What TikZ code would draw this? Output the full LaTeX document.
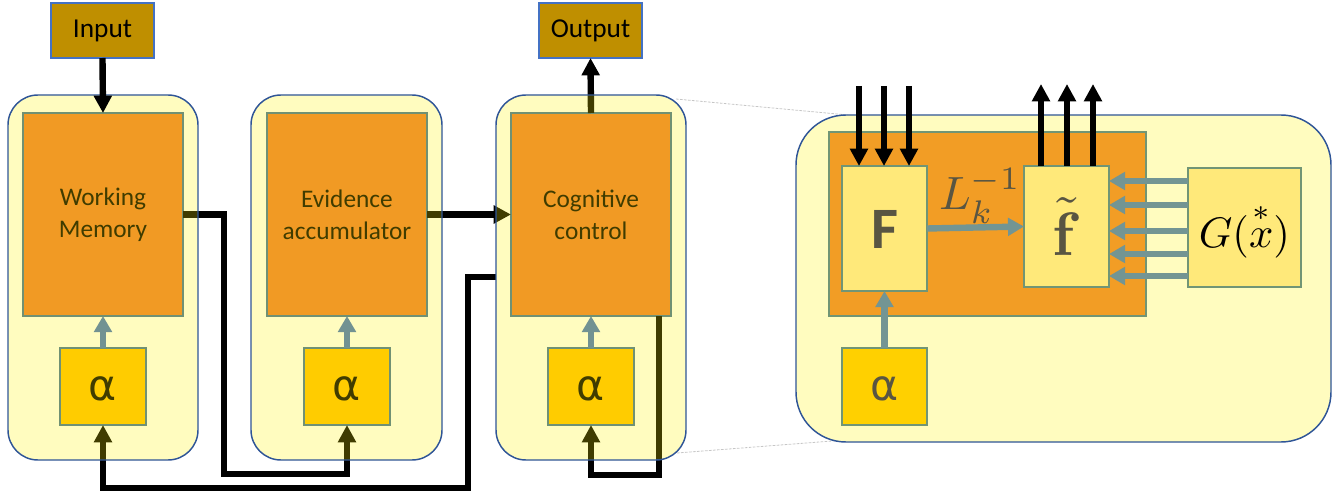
\documentclass[tikz,border=0pt]{standalone}
\usepackage{amsmath}
\usepackage[no-math]{fontspec}
\setmainfont{Carlito}
\newfontfamily\alphafont{DejaVu Sans}
\usetikzlibrary{arrows.meta,fit}
\definecolor{orB}{HTML}{ED7D31}
\definecolor{goldB}{HTML}{FFC000}
\definecolor{edgeB}{HTML}{41719C}
\definecolor{arrB}{HTML}{4472C4}
\definecolor{frameB}{HTML}{2F5597}
\definecolor{ioF}{HTML}{BF8F00}
\definecolor{lightY}{HTML}{FFE97A}
\colorlet{orO}{orB!75!yellow}
\colorlet{goldO}{goldB!75!yellow}
\colorlet{edgeO}{edgeB!75!yellow}
\colorlet{arrO}{arrB!75!yellow}
\colorlet{txtO}{black!75!yellow}
\colorlet{paleY}{yellow!25!white}
\tikzset{
  boxnode/.style={inner sep=0pt, outer sep=0pt},
  orbox/.style={boxnode, fill=orB, draw=edgeB, line width=1pt},
  modtext/.style={align=center, font=\fontsize{19}{24}\selectfont, inner sep=0pt},
  abox/.style={boxnode, fill=goldB, draw=edgeB, line width=1pt},
  alab/.style={font=\alphafont\fontsize{32}{32}\selectfont, inner sep=0pt, yshift=-2pt},
  iobox/.style={boxnode, fill=ioF, draw=arrB, line width=1pt},
  iolab/.style={font=\fontsize{20.5}{24}\selectfont, inner sep=0pt},
  lbox/.style={boxnode, fill=lightY, draw=edgeO, line width=1pt},
  blk/.style={line width=4.8pt, draw=black},
  blkarr/.style={blk, -{Triangle[width=13pt,length=13pt]}},
  gry/.style={line width=4.8pt, draw=arrB, -{Triangle[width=13pt,length=12pt]}},
  gryO/.style={line width=4.8pt, draw=arrO, -{Triangle[width=13pt,length=12pt]}},
  frame/.style={draw=frameB, line width=1.1pt},
  guide/.style={draw=gray!45, line width=0.6pt, dash pattern=on 2pt off 1pt}
}
\begin{document}
\begin{tikzpicture}[x=0.75pt,y=-0.75pt]
\useasboundingbox (0,0) rectangle (1343,492);
% zoom guide lines
\coordinate (z1) at (676,99); \coordinate (z2) at (848,115);
\coordinate (z3) at (677,453); \coordinate (z4) at (845,440);
\draw[guide] (z1) -- (z2);
\draw[guide] (z3) -- (z4);
% module frames (names only)
\node[boxnode, fit={(8,95) (198,460)}] (m1) {};
\node[boxnode, fit={(251,95) (442,460)}] (m2) {};
\node[boxnode, fit={(496,95) (686,460)}] (m3) {};
% inner blocks
\node[orbox, fit={(23,113) (183,316)}, label={[modtext]center:{Working\\Memory}}] (o1) {};
\node[orbox, fit={(267,113) (427,316)}, label={[modtext]center:{Evidence\\accumulator}}] (o2) {};
\node[orbox, fit={(511,113) (671,316)}, label={[modtext]center:{Cognitive\\control}}] (o3) {};
\node[abox, fit={(60,348) (146,425)}, label={[alab]center:α}] (a1) {};
\node[abox, fit={(304,348) (390,425)}, label={[alab]center:α}] (a2) {};
\node[abox, fit={(548,348) (634,425)}, label={[alab]center:α}] (a3) {};
\draw[gry] (a1.north) -- (o1.south);
\draw[gry] (a2.north) -- (o2.south);
\draw[gry] (a3.north) -- (o3.south);
% input / output boxes
\node[iobox, fit={(51,3) (154,58)}, label={[iolab]center:Input}] (inp) {};
\node[iobox, fit={(539,3) (642,58)}, label={[iolab]center:Output}] (outp) {};
% connectors
\coordinate (c1) at (224,474);
\draw[blkarr] (o1.east) -| (c1) -| (a2.south);
\coordinate (c2) at (468,277);
\coordinate (c3) at (468,488);
\draw[blkarr] (m3.west |- c2) -- (c2) -- (c3) -| (a1.south);
\coordinate (c4) at (659,475);
\draw[blkarr] (o3.south -| c4) -- (c4) -| (a3.south);
\draw[blkarr] (o2.east) -- (o3.west);
\draw[blkarr] (o3.north) -- (outp.south);
% translucent module frames
\foreach \m in {m1,m2,m3}{
  \fill[yellow, fill opacity=0.25, rounded corners=22.5pt] (\m.north west) rectangle (\m.south east);
  \draw[frame, rounded corners=22.5pt] (\m.north west) rectangle (\m.south east);
}
\draw[blkarr] (inp.south) -- (o1.north);
% zoomed panel
\node[boxnode, fit={(796,115) (1331,442)}, fill=paleY, draw=frameB, line width=1.1pt, rounded corners=37.5pt] (R) {};
\node[boxnode, fit={(829,132) (1146,316)}, fill=orO, draw=edgeO, line width=1pt] (Ro) {};
\node[lbox, fit={(842,166) (927,291)}, label={[text=txtO, inner sep=0pt, yshift=-1pt, font=\bfseries\fontsize{44}{44}\selectfont]center:F}] (F) {};
\node[lbox, fit={(1024,166) (1109,287)}, label={[text=txtO, inner sep=0pt, font=\fontsize{10}{12}\selectfont]center:{\scalebox{4.6}{$\tilde{\mathbf{f}}$}}}] (ft) {};
\node[lbox, fit={(1188,168) (1301,287)}, label={[text=black, inner sep=0pt, yshift=-2pt, font=\fontsize{10}{12}\selectfont]center:{\scalebox{3.2}{$G(\overset{*}{x})$}}}] (G) {};
\node[boxnode, fit={(842,348) (927,425)}, fill=goldO, draw=edgeO, line width=1pt, label={[alab, text=txtO]center:α}] (ra) {};
\node[text=txtO, inner sep=0pt, font=\fontsize{10}{12}\selectfont] (Lk) at (980,196) {\scalebox{3.5}{$L_k^{-1}$}};
\draw[gryO] (ra.north) -- (F.south);
\draw[gryO] (F.east) -- (ft.west);
\foreach \y [count=\i] in {181,205,231,254,276}{
  \coordinate (g\i) at (1150,\y);
  \draw[gryO] (G.west |- g\i) -- (ft.east |- g\i);
}
\foreach \x [count=\i] in {859,884,909}{
  \coordinate (i\i) at (\x,86);
  \draw[blkarr] (i\i) -- (i\i |- F.north);
}
\foreach \x [count=\i] in {1041,1067,1093}{
  \coordinate (u\i) at (\x,84);
  \draw[blkarr] (u\i |- ft.north) -- (u\i);
}
\end{tikzpicture}
\end{document}
